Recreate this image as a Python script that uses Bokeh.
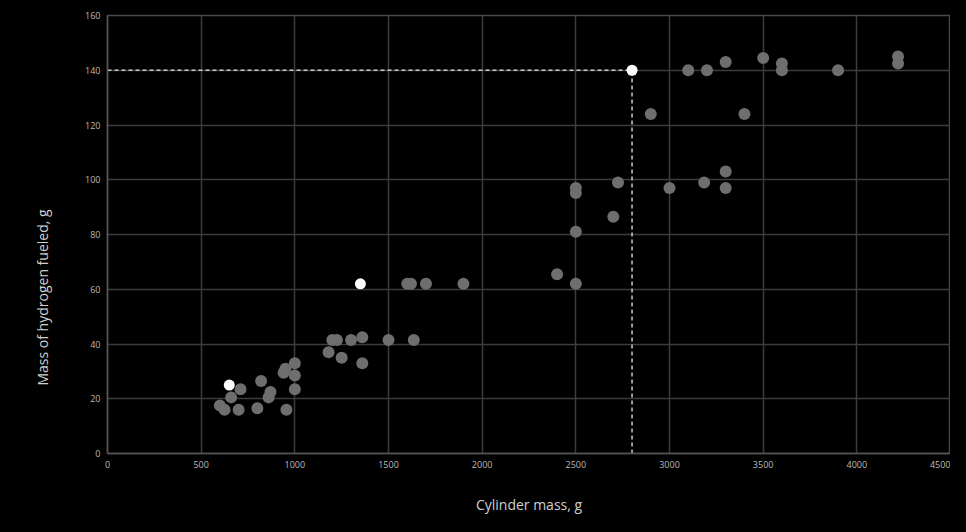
from bokeh.plotting import figure
from bokeh.models import FixedTicker, Range1d, ColumnDataSource, Title
from bokeh.embed import file_html
from bokeh.resources import INLINE

# ---- data ----
cyl_mass = [600, 625, 660, 710, 700, 800, 820, 860, 870, 940, 950, 955,
            1000, 1000, 1000, 1180, 1200, 1225, 1250, 1300, 1360, 1360,
            1500, 1635, 1600, 1620, 1700, 1900, 2400, 2500, 2500, 2700,
            2500, 2500, 2725, 3000, 3185, 3300, 3300, 2900, 3400,
            3100, 3200, 3300, 3500, 3600, 3600, 3900, 4220, 4220]
h2_mass = [17.5, 16, 20.5, 23.5, 16, 16.5, 26.5, 20.5, 22.5, 29.5, 31, 16,
           33, 28.5, 23.5, 37, 41.5, 41.5, 35, 41.5, 42.5, 33,
           41.5, 41.5, 62, 62, 62, 62, 65.5, 62, 81, 86.5,
           97, 95.2, 99, 97, 99, 103, 97, 124, 124,
           140, 140, 143, 144.5, 142.5, 140, 140, 145, 142.5]

hl_mass = [650, 1350, 2800]
hl_h2 = [25, 62, 140]

ref_x = 2800
ref_y = 140

x_ticks = [0, 500, 1000, 1500, 2000, 2500, 3000, 3500, 4000, 4500]
y_ticks = [0, 20, 40, 60, 80, 100, 120, 140, 160]

x_title = "Cylinder mass, g"
y_title = "Mass of hydrogen fueled, g"

FONT = "Open Sans"

p = figure(width=950, height=516, output_backend="svg", toolbar_location=None,
           x_range=Range1d(0, 4500), y_range=Range1d(0, 160),
           min_border_left=107, min_border_right=0, min_border_top=15,
           min_border_bottom=63)

p.background_fill_color = "#000000"
p.border_fill_color = "#000000"
p.outline_line_color = "#4a4a4a"
p.outline_line_width = 1.5

p.xaxis.ticker = FixedTicker(ticks=x_ticks)
p.yaxis.ticker = FixedTicker(ticks=y_ticks)
for ax in (p.xaxis, p.yaxis):
    ax.axis_line_color = "#555555"
    ax.axis_line_width = 1.5
    ax.major_tick_line_color = None
    ax.minor_tick_line_color = None
    ax.major_tick_out = 0
    ax.major_tick_in = 0
    ax.major_label_text_color = "#bbbbbb"
    ax.major_label_text_font = FONT
    ax.major_label_text_font_size = "9px"
    ax.major_label_standoff = 7
    ax.axis_label_text_color = "#d0d0d0"
    ax.axis_label_text_font = FONT
    ax.axis_label_text_font_style = "normal"

p.xaxis.axis_label = x_title
p.xaxis.axis_label_text_font_size = "14px"
p.xaxis.axis_label_standoff = 24

p.grid.grid_line_color = "#3c3c3c"
p.grid.grid_line_width = 1.5

# y axis title placed as a side title so it can sit lower than centre
ytitle = Title(text=y_title, align="left", offset=68, standoff=60,
               vertical_align="middle", text_color="#d0d0d0",
               text_font=FONT, text_font_size="14px",
               text_font_style="normal")
p.add_layout(ytitle, "left")

# reference dashed lines
p.line(x=[x_ticks[0], ref_x], y=[ref_y, ref_y], line_color="#cccccc",
       line_width=1.5, line_dash="4 3")
p.line(x=[ref_x, ref_x], y=[y_ticks[0], ref_y], line_color="#cccccc",
       line_width=1.5, line_dash="4 3")

src = ColumnDataSource(dict(x=cyl_mass, y=h2_mass))
p.scatter("x", "y", source=src, size=12, fill_color="#6e6e6e",
          line_color=None)
hsrc = ColumnDataSource(dict(x=hl_mass, y=hl_h2))
p.scatter("x", "y", source=hsrc, size=11, fill_color="#ffffff",
          line_color=None)

html = file_html(p, INLINE)
html = html.replace("<head>", "<head><style>html,body{background:#000000;}</style>", 1)
open("out.html", "w").write(html)
